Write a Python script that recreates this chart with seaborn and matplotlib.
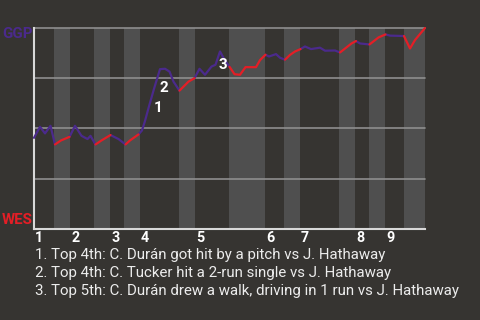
import matplotlib
matplotlib.use("Agg")
import matplotlib.pyplot as plt
import numpy as np
import pandas as pd
import seaborn as sns

sns.set_theme(style="dark")
plt.rcParams["font.family"] = ["Roboto", "DejaVu Sans"]

# Teams and colours
away_team, home_team = "GGP", "WES"
away_color, home_color = "#4B2A8C", "#E41E26"
bg_color = "#363431"
band_color = "#4F4F4F"
grid_color = "#8E8E8E"

# Game progress where each half inning begins (top 1st, bottom 1st, ...)
half_starts = [0, 4, 7.2, 12, 15.2, 18, 21.2, 29, 32.2, 39,
               46.2, 50, 53.2, 61, 64.2, 67, 70.2, 74]
game_end = 78.2
inning_labels = ["1", "2", "3", "4", "5", "6", "7", "8", "9"]

# Win probability for GGP after each play
play_x = [0, 1.2, 2.2, 3.3, 4.2, 5.4, 7.1, 8.2, 9.5, 10.7,
          11.3, 12.3, 13.5, 15.3, 16.9, 18.3, 19.2, 20.9, 21.6, 22.2,
          23.0, 24.0, 25.2, 26.2, 27.1, 27.9, 29.1, 30.9, 32.1, 33.1,
          34.2, 35.5, 36.3, 37.2, 38.1, 39.1, 40.1, 41.2, 42.3, 44.4,
          45.2, 46.3, 47.0, 48.4, 49.2, 50.2, 51.2, 52.2, 53.3, 54.2,
          55.4, 57.2, 58.2, 60.2, 61.2, 63.5, 64.4, 65.2, 67.1, 68.9,
          70.3, 71.2, 74.0, 75.2, 76.2, 78.2]
ggp_win = [0.453, 0.508, 0.475, 0.513, 0.420, 0.440, 0.458, 0.513, 0.463, 0.447,
           0.463, 0.420, 0.440, 0.467, 0.447, 0.420, 0.440, 0.470, 0.490, 0.537,
           0.610, 0.697, 0.795, 0.797, 0.783, 0.733, 0.688, 0.733, 0.750, 0.797,
           0.767, 0.808, 0.817, 0.883, 0.842, 0.807, 0.770, 0.767, 0.805, 0.805,
           0.840, 0.867, 0.858, 0.870, 0.852, 0.842, 0.866, 0.883, 0.895, 0.908,
           0.895, 0.902, 0.887, 0.888, 0.878, 0.923, 0.935, 0.923, 0.918, 0.953,
           0.968, 0.962, 0.960, 0.898, 0.940, 1.000]

# Key plays: index into the play list, and the caption below the chart
key_plays = [20, 21, 33]
key_offsets = [(9, -6), (10, -3), (3, -18)]
notes = [
    "1. Top 4th: C. Durán got hit by a pitch vs J. Hathaway",
    "2. Top 4th: C. Tucker hit a 2-run single vs J. Hathaway",
    "3. Top 5th: C. Durán drew a walk, driving in 1 run vs J. Hathaway",
]

half_bounds = half_starts + [game_end]


def half_of(x):
    return int(np.searchsorted(half_starts, x, side="right")) - 1


# Colour each step by the half inning it falls in (batting team), then join
# consecutive steps of the same half into one run
rows = []
run_id, prev_half = -1, None
for i in range(len(play_x) - 1):
    h = half_of((play_x[i] + play_x[i + 1]) / 2)
    team = away_team if h % 2 == 0 else home_team
    if h != prev_half:
        run_id += 1
        rows.append({"progress": play_x[i], "win": ggp_win[i],
                     "team": team, "run": run_id})
        prev_half = h
    rows.append({"progress": play_x[i + 1], "win": ggp_win[i + 1],
                 "team": team, "run": run_id})
df = pd.DataFrame(rows)

W, H = 480, 320
fig = plt.figure(figsize=(W / 100, H / 100), dpi=100, facecolor=bg_color)
ax_left, ax_right, ax_top, ax_bottom = 34, 425, 28, 228.8
ax = fig.add_axes([ax_left / W, 1 - ax_bottom / H,
                   (ax_right - ax_left) / W, (ax_bottom - ax_top) / H])
ax.set_facecolor(bg_color)

# Shade the bottom halves
for h in range(1, len(half_starts), 2):
    ax.axvspan(half_bounds[h], half_bounds[h + 1], color=band_color, lw=0, zorder=0)

for y in [0.25, 0.5, 0.75, 1.0]:
    ax.axhline(y, color=grid_color, lw=1.2, zorder=1, clip_on=False)

sns.lineplot(data=df, x="progress", y="win", hue="team", units="run",
             estimator=None, sort=False, legend=False, lw=1.6,
             palette={away_team: away_color, home_team: home_color},
             ax=ax, zorder=3, clip_on=False)

ax.set_xlim(0, game_end)
ax.set_ylim(0, 1)
ax.set_xticks([])
ax.set_yticks([])
ax.set_xlabel("")
ax.set_ylabel("")
ax.grid(False)
for side in ["top", "right"]:
    ax.spines[side].set_visible(False)
for side in ["left", "bottom"]:
    ax.spines[side].set_visible(True)
    ax.spines[side].set_color("#D8D8D8")
    ax.spines[side].set_linewidth(1.5)

# Key play markers
for n, (i, off) in enumerate(zip(key_plays, key_offsets), start=1):
    ax.annotate(str(n), xy=(play_x[i], ggp_win[i]), xytext=off,
                textcoords="offset pixels", ha="center", va="baseline",
                color="white", fontsize=11, fontweight="bold", zorder=4)

# Inning numbers along the bottom
for k, lab in enumerate(inning_labels):
    ax.annotate(lab, xy=(half_starts[2 * k], 0), xycoords=("data", "axes fraction"),
                xytext=(1, -13), textcoords="offset pixels", ha="left",
                va="baseline", color="white", fontsize=10.3, fontweight="bold")

# Team labels at the ends of the scale
fig.text(2 / W, 1 - 38.3 / H, away_team, color=away_color, fontsize=10.8,
         fontweight="bold", ha="left", va="baseline")
fig.text(2 / W, 1 - 224.3 / H, home_team, color=home_color, fontsize=10.8,
         fontweight="bold", ha="left", va="baseline")

# Key play captions
for k, note in enumerate(notes):
    fig.text(35 / W, 1 - (258.5 + 18 * k) / H, note, color="#ECECEC",
             fontsize=10.8, ha="left", va="baseline")

fig.savefig("out.png", dpi=100, facecolor=bg_color)
